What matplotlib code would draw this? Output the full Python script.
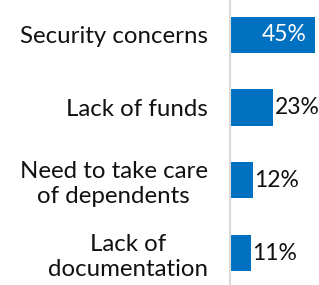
import matplotlib
matplotlib.use("Agg")
import matplotlib.pyplot as plt

categories = ["Security concerns", "Lack of funds", "Need to take care\nof dependents", "Lack of\ndocumentation"]
values = [45, 23, 12, 11]
labels = ["45%", "23%", "12%", "11%"]

BLUE = "#0070C0"
fig = plt.figure(figsize=(3.19, 2.85), dpi=100)
ax = fig.add_axes([230/319, 0, 89/319, 1])
y = list(range(len(categories)))
ax.barh(y, values, height=0.5, color=BLUE, zorder=2)
ax.set_xlim(0, 47.1)
ax.set_ylim(3.44, -0.48)
for s in ["top", "right", "bottom"]:
    ax.spines[s].set_visible(False)
ax.spines["left"].set_color("#D9D9D9")
ax.spines["left"].set_linewidth(1.5)
ax.spines["left"].set_zorder(3)
ax.set_xticks([])
ax.set_yticks(y)
ax.set_yticklabels(categories, fontfamily="Lato", fontsize=17.3, color="#111111",
                   multialignment="center", linespacing=1.22)
ax.tick_params(axis="y", length=0, pad=16)

for i, (v, t) in enumerate(zip(values, labels)):
    if i == 0:
        ax.annotate(t, (v, i), xytext=(-6, 0), textcoords="offset points",
                    ha="right", va="center", color="white", fontsize=16.5,
                    fontfamily="Lato")
    else:
        ax.annotate(t, (v, i), xytext=(1, 0), textcoords="offset points",
                    ha="left", va="center", color="#111111", fontsize=16.5,
                    fontfamily="Lato", annotation_clip=False)

fig.savefig("out.png", dpi=100)
